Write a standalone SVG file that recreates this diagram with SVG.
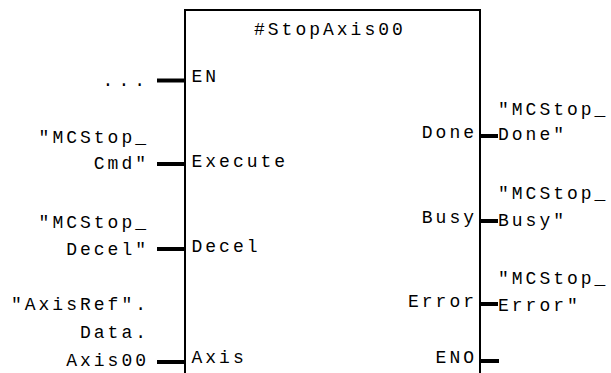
<svg xmlns="http://www.w3.org/2000/svg" width="611" height="373" viewBox="0 0 611 373">
<style>
text{font-family:"Liberation Mono","DejaVu Sans Mono",monospace;font-size:18px;letter-spacing:3px;fill:#000}
.e{text-anchor:end}
.box{fill:none;stroke:#000;stroke-width:2}
.stub{stroke:#000;stroke-width:4;fill:none}
</style>
<rect width="611" height="373" fill="#fff"/>
<g id="block">
<rect class="box" x="185" y="10" width="295" height="400"/>
<text x="254" y="35">#StopAxis00</text>
<text x="191.5" y="82">EN</text>
<text x="191.5" y="167">Execute</text>
<text x="191.5" y="252">Decel</text>
<text x="191.5" y="363">Axis</text>
<text class="e" x="477" y="138">Done</text>
<text class="e" x="477" y="223">Busy</text>
<text class="e" x="477" y="307">Error</text>
<text class="e" x="477" y="363">ENO</text>
</g>
<g id="inputs">
<text class="e" x="150" y="86" style="letter-spacing:5px">...</text>
<text class="e" x="149" y="143">"MCStop_</text>
<text class="e" x="149" y="169">Cmd"</text>
<text class="e" x="149" y="228">"MCStop_</text>
<text class="e" x="149" y="255">Decel"</text>
<text class="e" x="149" y="310">"AxisRef".</text>
<text class="e" x="149" y="338">Data.</text>
<text class="e" x="149" y="366">Axis00</text>
</g>
<g id="outputs">
<text x="498" y="115">"MCStop_</text>
<text x="498" y="140">Done"</text>
<text x="498" y="199">"MCStop_</text>
<text x="498" y="226">Busy"</text>
<text x="498" y="284">"MCStop_</text>
<text x="498" y="311">Error"</text>
</g>
<g id="connectors">
<line class="stub" x1="157" y1="80.5" x2="185" y2="80.5"/>
<line class="stub" x1="157" y1="164" x2="185" y2="164"/>
<line class="stub" x1="157" y1="249" x2="185" y2="249"/>
<line class="stub" x1="157" y1="362" x2="185" y2="362"/>
<line class="stub" x1="480" y1="136" x2="498" y2="136"/>
<line class="stub" x1="480" y1="221" x2="498" y2="221"/>
<line class="stub" x1="480" y1="304" x2="498" y2="304"/>
<line class="stub" x1="480" y1="361" x2="499" y2="361"/>
</g>
</svg>
